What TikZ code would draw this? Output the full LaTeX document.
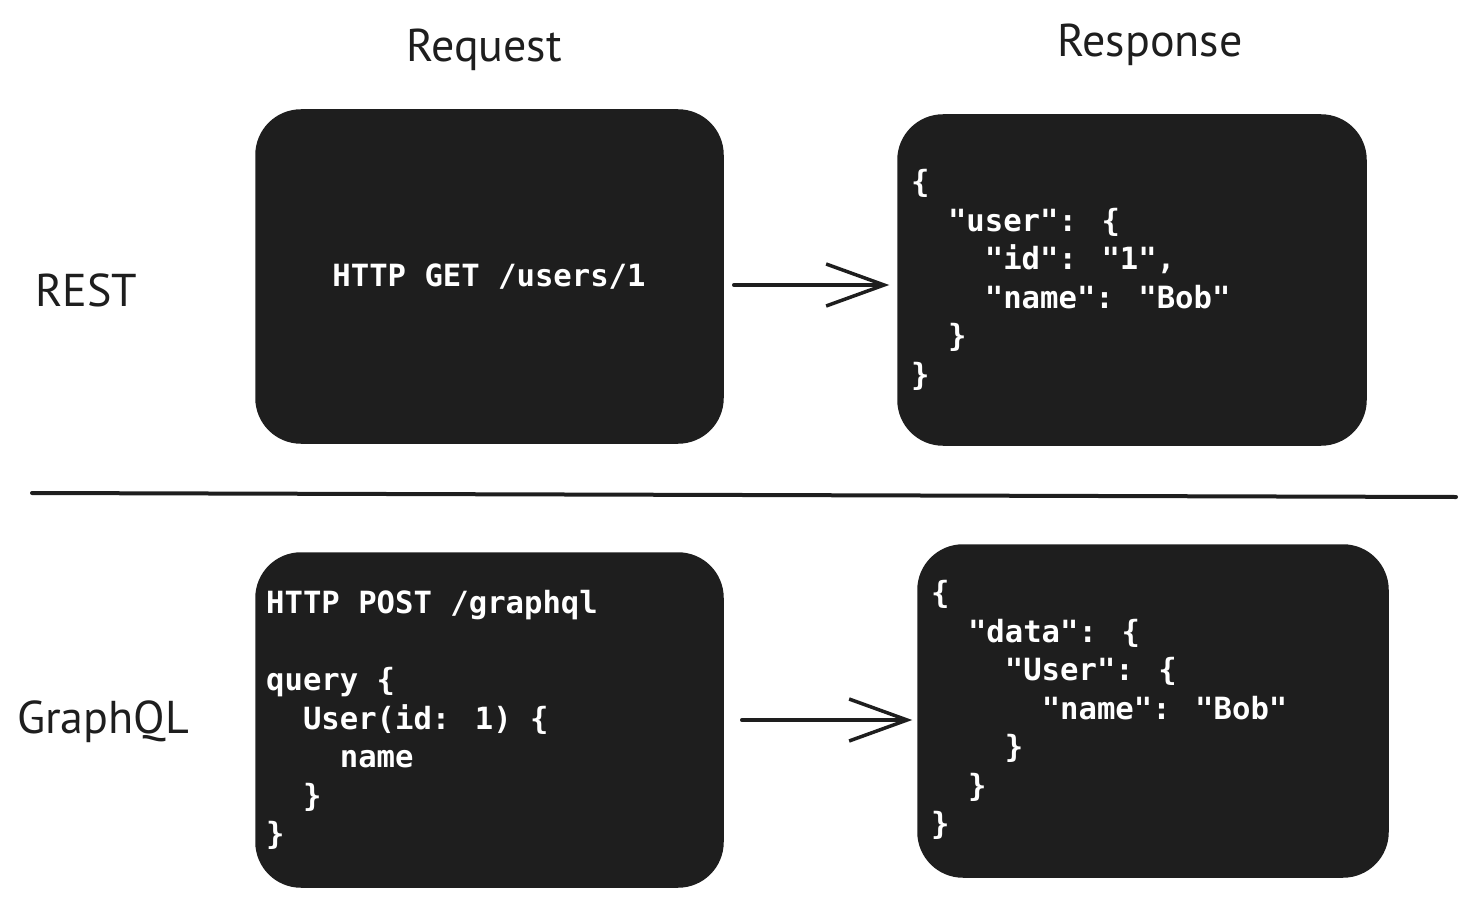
\documentclass[tikz,border=0pt]{standalone}
\usepackage{fontspec}
\setmainfont{PT Sans}
\newfontfamily\codefont{DejaVu Sans Mono}
\usetikzlibrary{arrows.meta}
\definecolor{boxfill}{HTML}{1E1E1E}
\definecolor{inkc}{HTML}{1E1E1E}
\tikzset{
  blackbox/.style={draw=boxfill, line width=1.5pt, fill=boxfill, rounded corners=45pt, inner sep=0pt},
  code/.style={text=white, font=\codefont\bfseries\fontsize{30.6}{38.5}\selectfont, align=left, inner sep=0pt},
  hand/.style={text=inkc, font=\fontsize{46}{52}\selectfont, inner sep=0pt},
  flow/.style={draw=inkc, line width=3.5pt, line cap=round, line join=round, -{Straight Barb[length=58pt, width=42pt, line width=3.5pt]}},
}
\begin{document}
\begin{tikzpicture}[x=1pt, y=-1pt]
\useasboundingbox (0,0) rectangle (1474,904);
% headings
\node[hand] (hreq) at (484,50) {Request};
\node[hand] (hres) at (1150,45) {Response};
\node[hand] (hrest) at (86,290) {REST};
\node[hand] (hgql) at (103,722) {GraphQL};
% boxes
\node[blackbox, minimum width=467pt, minimum height=333pt] (reqR) at (489.5,276.5) {};
\node[blackbox, minimum width=468pt, minimum height=330pt] (resR) at (1132,280) {};
\node[blackbox, minimum width=467pt, minimum height=334pt] (reqG) at (489.5,720) {};
\node[blackbox, minimum width=470pt, minimum height=332pt] (resG) at (1153,711) {};
% texts
\node[code] (tReqR) at (489,277) {HTTP GET /users/1};
\node[code, anchor=west] (tResR) at (911,280) {\{\\
\ \ "user": \{\\
\ \ \ \ "id": "1",\\
\ \ \ \ "name": "Bob"\\
\ \ \}\\
\}};
\node[code, anchor=west] (tReqG) at (266,720) {HTTP POST /graphql\\
\strut\\
query \{\\
\ \ User(id: 1) \{\\
\ \ \ \ name\\
\ \ \}\\
\}};
\node[code, anchor=west] (tResG) at (931,710) {\{\\
\ \ "data": \{\\
\ \ \ \ "User": \{\\
\ \ \ \ \ \ "name": "Bob"\\
\ \ \ \ \}\\
\ \ \}\\
\}};
% separator
\coordinate (sepL) at (32,493);
\coordinate (sepR) at (1456,497);
\draw[inkc, line width=4pt, line cap=round] (sepL) -- (sepR);
% arrows
\draw[flow, shorten <=10pt, shorten >=8pt] ([yshift=-8.5pt]reqR.east) -- ([yshift=-5pt]resR.west);
\draw[flow, shorten <=18pt, shorten >=5pt] (reqG.east) -- ([yshift=-9pt]resG.west);
\end{tikzpicture}
\end{document}
